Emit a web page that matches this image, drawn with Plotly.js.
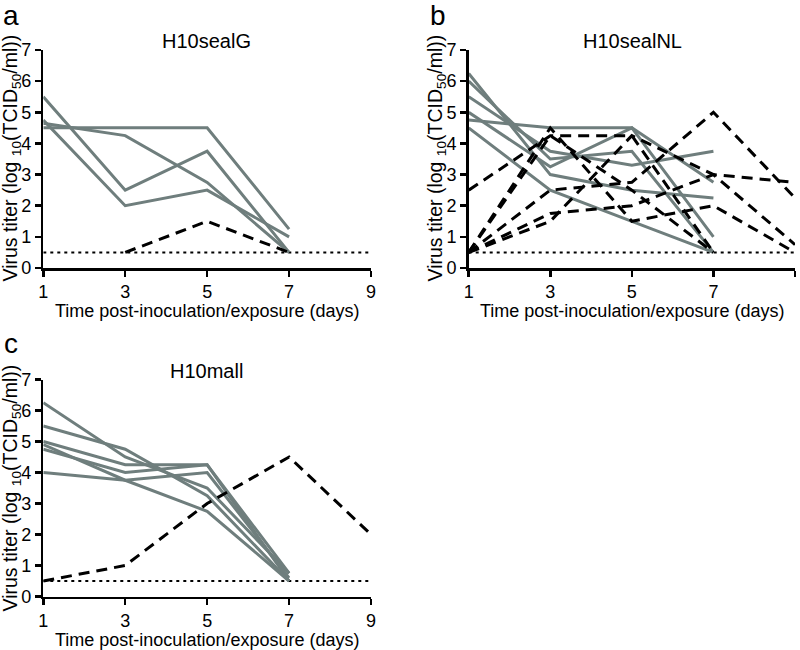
<!DOCTYPE html>
<html>
<head>
<meta charset="utf-8">
<script src="https://cdn.plot.ly/plotly-3.0.1.min.js"></script>
<style>html,body{margin:0;padding:0;background:#fff;}#chart{width:800px;height:650px;}</style>
</head>
<body>
<div id="chart"></div>
<script>
// ---------- data ----------
const days = [1, 3, 5, 7, 9];
const inocDays = [1, 3, 5, 7];
const detectionLimit = [0.5, 0.5];
const limitDays = [1, 9];

const panelTitles = ["H10sealG", "H10sealNL", "H10mall"];
const panelLetters = ["a", "b", "c"];
const xTickVals = [1, 3, 5, 7, 9];
const xTickText = ["1", "3", "5", "7", "9"];
const yTickVals = [0, 1, 2, 3, 4, 5, 6, 7];

// H10sealG: inoculated (solid) and contact (dashed)
const sealGInoc = [
  [5.5, 2.5, 3.75, 0.5],
  [4.75, 2.0, 2.5, 1.0],
  [4.65, 4.25, 2.75, 0.5],
  [4.5, 4.5, 4.5, 1.25]
];
const sealGContact = [
  [null, 0.5, 1.5, 0.5, null]
];

// H10sealNL
const sealNLInoc = [
  [4.75, 4.5, 4.5, 2.75],
  [4.5, 2.5, 1.5, 0.5],
  [6.25, 3.0, 2.5, 2.25],
  [5.0, 3.25, 4.5, 1.0],
  [6.0, 3.5, 3.75, 0.5],
  [5.5, 3.75, 3.3, 3.75]
];
const sealNLContact = [
  [2.5, 4.25, 4.25, 0.5, null],
  [0.5, 4.5, 1.5, 2.0, 0.5],
  [0.5, 4.25, 2.5, 0.5, null],
  [0.5, 2.5, 2.75, 5.0, 2.25],
  [0.5, 1.75, 2.0, 3.0, 2.75],
  [0.5, 1.5, 4.25, 3.0, 0.75]
];

// H10mall
const mallInoc = [
  [6.25, 4.5, 3.5, 0.75],
  [5.5, 4.75, 3.25, 0.5],
  [5.0, 4.25, 4.25, 0.5],
  [4.9, 3.75, 2.75, 0.5],
  [4.75, 4.0, 4.25, 0.75],
  [4.0, 3.75, 4.0, 0.6]
];
const mallContact = [
  [0.5, 1.0, 3.0, 4.5, 2.0]
];

// ---------- styling ----------
const grayCol = "#6f7e7d";
const FONT = "Liberation Sans, Arial, Helvetica, sans-serif";

const panels = [
  {inoc: sealGInoc, contact: sealGContact, xa: "x", ya: "y"},
  {inoc: sealNLInoc, contact: sealNLContact, xa: "x2", ya: "y2"},
  {inoc: mallInoc, contact: mallContact, xa: "x3", ya: "y3"}
];

const traces = [];
panels.forEach(p => {
  traces.push({
    x: limitDays, y: detectionLimit, xaxis: p.xa, yaxis: p.ya,
    mode: "lines", line: {color: "#000", width: 2, dash: "3px,4px"},
    hoverinfo: "skip"
  });
  p.inoc.forEach(v => traces.push({
    x: inocDays, y: v, xaxis: p.xa, yaxis: p.ya,
    mode: "lines", line: {color: grayCol, width: 3}
  }));
  p.contact.forEach(v => traces.push({
    x: days, y: v, xaxis: p.xa, yaxis: p.ya, connectgaps: false,
    mode: "lines", line: {color: "#000", width: 3, dash: "11px,7px"}
  }));
});

function xAxis(domain, anchor) {
  return {
    domain: domain, anchor: anchor, range: [1, 9],
    tickvals: xTickVals, ticktext: xTickText,
    showline: true, linecolor: "#000", linewidth: 2.5,
    ticks: "outside", ticklen: 6, tickwidth: 2.5, tickcolor: "#000",
    ticklabelstandoff: 0,
    showgrid: false, zeroline: false,
    tickfont: {family: FONT, size: 18, color: "#000"}
  };
}
function yAxis(domain, anchor) {
  return {
    domain: domain, anchor: anchor, range: [0, 7],
    tickvals: yTickVals,
    showline: true, linecolor: "#000", linewidth: 2.5,
    ticks: "outside", ticklen: 6, tickwidth: 2.5, tickcolor: "#000",
    ticklabelstandoff: 0,
    showgrid: false, zeroline: false,
    tickfont: {family: FONT, size: 18, color: "#000"}
  };
}

const W = 800, H = 650;
const px = v => v / W, py = v => 1 - v / H;

const xdA = [px(43.3), px(371)], xdB = [px(468.7), px(795)];
const ydTop = [py(268), py(50)], ydBot = [py(596.5), py(379.5)];

const yTitle = "Virus titer (log <sub>10</sub>(TCID<sub>50</sub>/ml))";
const xTitle = "Time post-inoculation/exposure (days)";

function ann(text, x, y, size, extra) {
  return Object.assign({
    text: text, x: x, y: y, xref: "paper", yref: "paper",
    xanchor: "center", yanchor: "middle", showarrow: false,
    font: {family: FONT, size: size, color: "#000"}
  }, extra || {});
}

const annotations = [
  ann(panelLetters[0], px(11), py(15), 28),
  ann(panelLetters[1], px(438), py(15), 28),
  ann(panelLetters[2], px(11), py(343), 28),
  ann(panelTitles[0], px(207), py(41), 20),
  ann(panelTitles[1], px(632), py(41), 20),
  ann(panelTitles[2], px(207), py(371), 20),
  ann(xTitle, px(207), py(311), 18),
  ann(xTitle, px(632), py(311), 18),
  ann(xTitle, px(207), py(640), 18),
  ann(yTitle, px(10.5), py(158), 19.5, {textangle: -90}),
  ann(yTitle, px(435.5), py(158), 19.5, {textangle: -90}),
  ann(yTitle, px(10.5), py(488), 19.5, {textangle: -90})
];

const layout = {
  width: W, height: H,
  margin: {l: 0, r: 0, t: 0, b: 0, pad: 0},
  paper_bgcolor: "#fff", plot_bgcolor: "rgba(0,0,0,0)",
  showlegend: false,
  xaxis: xAxis(xdA, "y"), yaxis: yAxis(ydTop, "x"),
  xaxis2: xAxis(xdB, "y2"), yaxis2: yAxis(ydTop, "x2"),
  xaxis3: xAxis(xdA, "y3"), yaxis3: yAxis(ydBot, "x3"),
  annotations: annotations
};

Plotly.newPlot("chart", traces, layout, {staticPlot: true, displayModeBar: false});
</script>
</body>
</html>
